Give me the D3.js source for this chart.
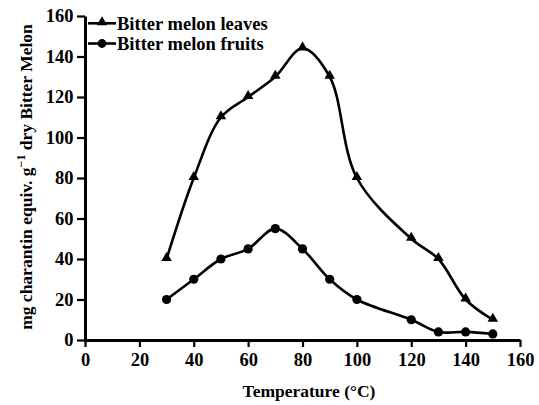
<!DOCTYPE html>
<html>
<head>
<meta charset="utf-8">
<script src="https://cdn.jsdelivr.net/npm/d3@7"></script>
<style>
  body { margin: 0; background: #fff; }
</style>
</head>
<body>
<div id="chart"></div>
<script>
const temps = [30, 40, 50, 60, 70, 80, 90, 100, 120, 130, 140, 150];
const leaves = [40, 80, 110, 120, 130, 144, 130, 80, 50, 40, 20, 10];
const fruits = [20, 30, 40, 45, 55, 45, 30, 20, 10, 4, 4, 3];
const xTicks = [0, 20, 40, 60, 80, 100, 120, 140, 160];
const yTicks = [0, 20, 40, 60, 80, 100, 120, 140, 160];
const seriesNames = ['Bitter melon leaves', 'Bitter melon fruits'];

const width = 539;
const height = 405;
const margin = { top: 16, right: 19, bottom: 65, left: 85 };
const serif = "'Liberation Serif', 'Times New Roman', serif";

const svg = d3.select('#chart').append('svg')
  .attr('width', width)
  .attr('height', height)
  .style('font-family', serif)
  .style('font-weight', 'bold');

const x = d3.scaleLinear().domain([0, 160]).range([margin.left, width - margin.right]);
const y = d3.scaleLinear().domain([0, 160]).range([height - margin.bottom, margin.top]);

const xAxis = svg.append('g')
  .attr('transform', `translate(0,${y(0)})`)
  .call(d3.axisBottom(x).tickValues(xTicks).tickSize(7).tickSizeOuter(0).tickPadding(6));

const yAxis = svg.append('g')
  .attr('transform', `translate(${x(0)},0)`)
  .call(d3.axisLeft(y).tickValues(yTicks).tickSize(8).tickSizeOuter(0).tickPadding(3.5));

[xAxis, yAxis].forEach(a => {
  a.attr('font-family', null).attr('font-size', null);
  a.select('.domain').attr('stroke', '#000').attr('stroke-width', 3);
  a.selectAll('.tick line').attr('stroke', '#000').attr('stroke-width', 2.2);
  a.selectAll('.tick text').style('font-size', '18.5px').attr('fill', '#000');
});

// axis titles
svg.append('text')
  .attr('x', 309)
  .attr('y', 397)
  .attr('text-anchor', 'middle')
  .style('font-size', '17.5px')
  .text('Temperature (°C)');

const yTitle = svg.append('text')
  .attr('transform', 'translate(32,177) rotate(-90)')
  .attr('text-anchor', 'middle')
  .style('font-size', '17.5px');
yTitle.append('tspan').text('mg charantin equiv. g');
yTitle.append('tspan').attr('dy', -7).style('font-size', '12px').text('−1');
yTitle.append('tspan').attr('dy', 7).text(' dry Bitter Melon');

const line = d3.line()
  .x(d => x(d[0]))
  .y(d => y(d[1]))
  .curve(d3.curveCatmullRom);

const tri = d3.symbol().type(d3.symbolTriangle).size(48);

const drawSeries = (values, marker) => {
  const pts = temps.map((t, i) => [t, values[i]]);
  svg.append('path')
    .datum(pts)
    .attr('fill', 'none')
    .attr('stroke', '#000')
    .attr('stroke-width', 2.6)
    .attr('d', line);
  const g = svg.append('g');
  if (marker === 'triangle') {
    g.selectAll('path').data(pts).enter().append('path')
      .attr('d', tri)
      .attr('transform', d => `translate(${x(d[0])},${y(d[1]) - 1})`)
      .attr('fill', '#000');
  } else {
    g.selectAll('circle').data(pts).enter().append('circle')
      .attr('cx', d => x(d[0]))
      .attr('cy', d => y(d[1]))
      .attr('r', 4.6)
      .attr('fill', '#000');
  }
};

drawSeries(leaves, 'triangle');
drawSeries(fruits, 'circle');

// legend
const legend = svg.append('g');
seriesNames.forEach((name, i) => {
  const ly = 23.3 + i * 20.2;
  legend.append('line')
    .attr('x1', 88).attr('x2', 116)
    .attr('y1', ly).attr('y2', ly)
    .attr('stroke', '#000').attr('stroke-width', 2.6);
  if (i === 0) {
    legend.append('path').attr('d', tri).attr('transform', `translate(102,${ly - 1})`).attr('fill', '#000');
  } else {
    legend.append('circle').attr('cx', 102).attr('cy', ly).attr('r', 4.4).attr('fill', '#000');
  }
  legend.append('text')
    .attr('x', 117)
    .attr('y', ly + 6.2)
    .style('font-size', '18.5px')
    .text(name);
});
</script>
</body>
</html>
